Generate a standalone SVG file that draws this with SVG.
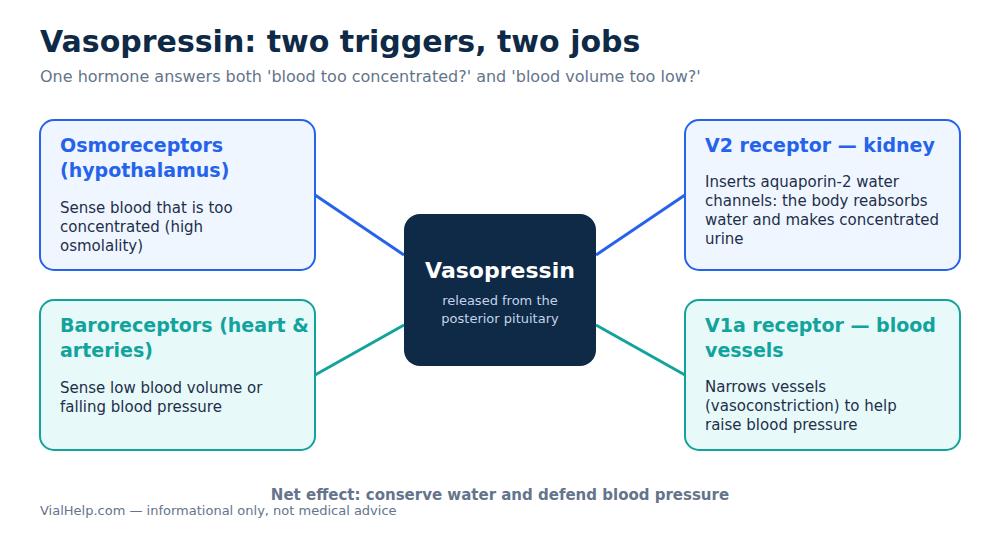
<svg xmlns="http://www.w3.org/2000/svg" width="1000" height="535" viewBox="0 0 1000 535">
<style>
text{font-family:"DejaVu Sans","Noto Sans",sans-serif}
.title{font-size:30px;font-weight:bold;fill:#0f2a47}
.sub{font-size:16px;fill:#64748b}
.box-b{fill:#eff6ff;stroke:#2563eb;stroke-width:2}
.box-t{fill:#e7f9f9;stroke:#12a39c;stroke-width:2}
.h-b{font-size:19px;font-weight:bold;fill:#2563eb}
.h-t{font-size:19px;font-weight:bold;fill:#12a39c}
.body{font-size:15px;fill:#1e2f4a}
.c-b{stroke:#2563eb;stroke-width:3;fill:none}
.c-t{stroke:#12a39c;stroke-width:3;fill:none}
.note{font-size:15px;font-weight:bold;fill:#64748b}
.foot{font-size:13px;fill:#64748b}
</style>
<rect width="1000" height="535" fill="#ffffff"/>
<text class="title" x="40" y="52">Vasopressin: two triggers, two jobs</text>
<text class="sub" x="40" y="82">One hormone answers both 'blood too concentrated?' and 'blood volume too low?'</text>
<g id="connectors">
<line class="c-b" x1="315" y1="195" x2="404" y2="255"/>
<line class="c-t" x1="315" y1="375" x2="404" y2="325"/>
<line class="c-b" x1="596" y1="255" x2="685" y2="195"/>
<line class="c-t" x1="596" y1="325" x2="685" y2="375"/>
</g>
<g id="osmoreceptors">
<rect class="box-b" x="40" y="120" width="275" height="150" rx="14"/>
<text class="h-b" x="60" y="152">Osmoreceptors</text>
<text class="h-b" x="60" y="177">(hypothalamus)</text>
<text class="body" x="60" y="213">Sense blood that is too</text>
<text class="body" x="60" y="232">concentrated (high</text>
<text class="body" x="60" y="251">osmolality)</text>
</g>
<g id="baroreceptors">
<rect class="box-t" x="40" y="300" width="275" height="150" rx="14"/>
<text class="h-t" x="60" y="332">Baroreceptors (heart &amp;</text>
<text class="h-t" x="60" y="357">arteries)</text>
<text class="body" x="60" y="393">Sense low blood volume or</text>
<text class="body" x="60" y="412">falling blood pressure</text>
</g>
<g id="vasopressin">
<rect x="404" y="214" width="192" height="152" rx="16" fill="#0f2a47"/>
<text x="500" y="278" text-anchor="middle" font-size="22" font-weight="bold" fill="#ffffff">Vasopressin</text>
<text x="500" y="305" text-anchor="middle" font-size="13" fill="#c3d3ea">released from the</text>
<text x="500" y="323" text-anchor="middle" font-size="13" fill="#c3d3ea">posterior pituitary</text>
</g>
<g id="v2">
<rect class="box-b" x="685" y="120" width="275" height="150" rx="14"/>
<text class="h-b" x="705" y="152">V2 receptor — kidney</text>
<text class="body" x="705" y="187">Inserts aquaporin-2 water</text>
<text class="body" x="705" y="206">channels: the body reabsorbs</text>
<text class="body" x="705" y="225">water and makes concentrated</text>
<text class="body" x="705" y="244">urine</text>
</g>
<g id="v1a">
<rect class="box-t" x="685" y="300" width="275" height="150" rx="14"/>
<text class="h-t" x="705" y="332">V1a receptor — blood</text>
<text class="h-t" x="705" y="357">vessels</text>
<text class="body" x="705" y="392">Narrows vessels</text>
<text class="body" x="705" y="411">(vasoconstriction) to help</text>
<text class="body" x="705" y="430">raise blood pressure</text>
</g>
<text class="note" x="500" y="500" text-anchor="middle">Net effect: conserve water and defend blood pressure</text>
<text class="foot" x="40" y="515">VialHelp.com — informational only, not medical advice</text>
</svg>
